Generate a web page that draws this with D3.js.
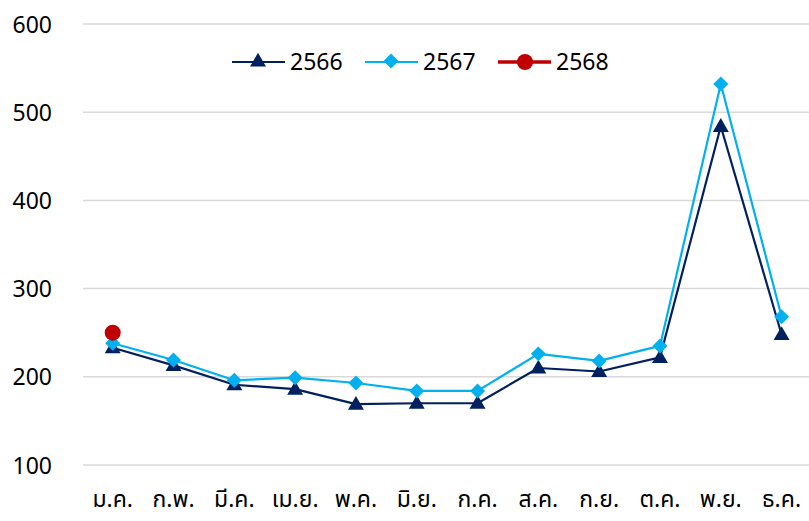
<!DOCTYPE html>
<html><head><meta charset="utf-8">
<script src="https://cdn.jsdelivr.net/npm/d3@7"></script>
<style>body{margin:0;background:#fff}svg{display:block}</style>
</head><body>
<svg id="c" width="809" height="521"></svg>
<script>
const months = ["ม.ค.","ก.พ.","มี.ค.","เม.ย.","พ.ค.","มิ.ย.","ก.ค.","ส.ค.","ก.ย.","ต.ค.","พ.ย.","ธ.ค."];
const yTicks = [100,200,300,400,500,600];
const s2566 = [233,213,191,186,169,170,170,210,206,222,484,248];
const s2567 = [238,219,196,199,193,184,184,226,218,235,532,268];
const s2568 = [250];
const seriesNames = ["2566","2567","2568"];
const colors = ["#002060","#00B0F0","#C00000"];

const font = "'Noto Sans Thai','Noto Sans','Lato',sans-serif";
const svg = d3.select("#c");
const x = d3.scaleBand().domain(months).range([82.3, 812]);
const y = d3.scaleLinear().domain([100,600]).range([465,24]);
const cx = m => x(m) + x.bandwidth()/2;

// gridlines
svg.append("g").selectAll("line").data(yTicks).join("line")
  .attr("x1",83).attr("x2",809).attr("y1",d=>y(d)).attr("y2",d=>y(d))
  .attr("stroke","#d9d9d9").attr("stroke-width",1.5);

// y axis labels
const yAxis = svg.append("g").attr("transform","translate(52,0)")
  .call(d3.axisLeft(y).tickValues(yTicks).tickSize(0).tickPadding(0));
yAxis.select(".domain").remove();
yAxis.selectAll("text").attr("font-family",font).attr("font-size",23).attr("fill","#000").attr("dy","0.35em");

// x axis labels
const xAxis = svg.append("g").attr("transform","translate(0,490)")
  .call(d3.axisBottom(x).tickSize(0).tickPadding(0));
xAxis.select(".domain").remove();
xAxis.selectAll("text").attr("font-family",font).attr("font-size",23).attr("fill","#000").attr("dy","0.75em");

const tri = d3.symbol().type(d3.symbolTriangle).size(110);
const dia = d3.symbol().type(d3.symbolSquare).size(112);

const line = d3.line().x((d,i)=>cx(months[i])).y(d=>y(d));

function markerTransform(marker, px, py){
  if (marker==="tri") return `translate(${px},${py+1})`;
  return `translate(${px},${py}) rotate(45)`;
}

function drawSeries(data, color, lw, marker){
  const g = svg.append("g");
  if (data.length>1) g.append("path").datum(data).attr("d",line).attr("fill","none")
    .attr("stroke",color).attr("stroke-width",lw).attr("stroke-linejoin","round");
  data.forEach((v,i)=>{
    if (marker==="circle") g.append("circle").attr("cx",cx(months[i])).attr("cy",y(v)).attr("r",8).attr("fill",color);
    else g.append("path").attr("d",marker==="tri"?tri():dia())
      .attr("transform",markerTransform(marker,cx(months[i]),y(v))).attr("fill",color);
  });
}
drawSeries(s2566, colors[0], 2.2, "tri");
drawSeries(s2567, colors[1], 2.2, "dia");
drawSeries(s2568, colors[2], 3, "circle");

// legend
const legendX = [232, 365, 498];
const markers = ["tri","dia","circle"];
const lg = svg.append("g");
seriesNames.forEach((n,i)=>{
  const x0 = legendX[i], yy = 62;
  lg.append("line").attr("x1",x0).attr("x2",x0+53).attr("y1",yy).attr("y2",yy)
    .attr("stroke",colors[i]).attr("stroke-width",i===2?3.5:2.2);
  if (markers[i]==="circle") lg.append("circle").attr("cx",x0+27).attr("cy",yy).attr("r",8).attr("fill",colors[i]);
  else lg.append("path").attr("d",markers[i]==="tri"?tri():dia())
    .attr("transform",markerTransform(markers[i],x0+26,yy-1)).attr("fill",colors[i]);
  lg.append("text").attr("x",x0+58).attr("y",yy).attr("dy","0.35em")
    .attr("font-family",font).attr("font-size",23).attr("fill","#000").text(n);
});
</script>
</body></html>
